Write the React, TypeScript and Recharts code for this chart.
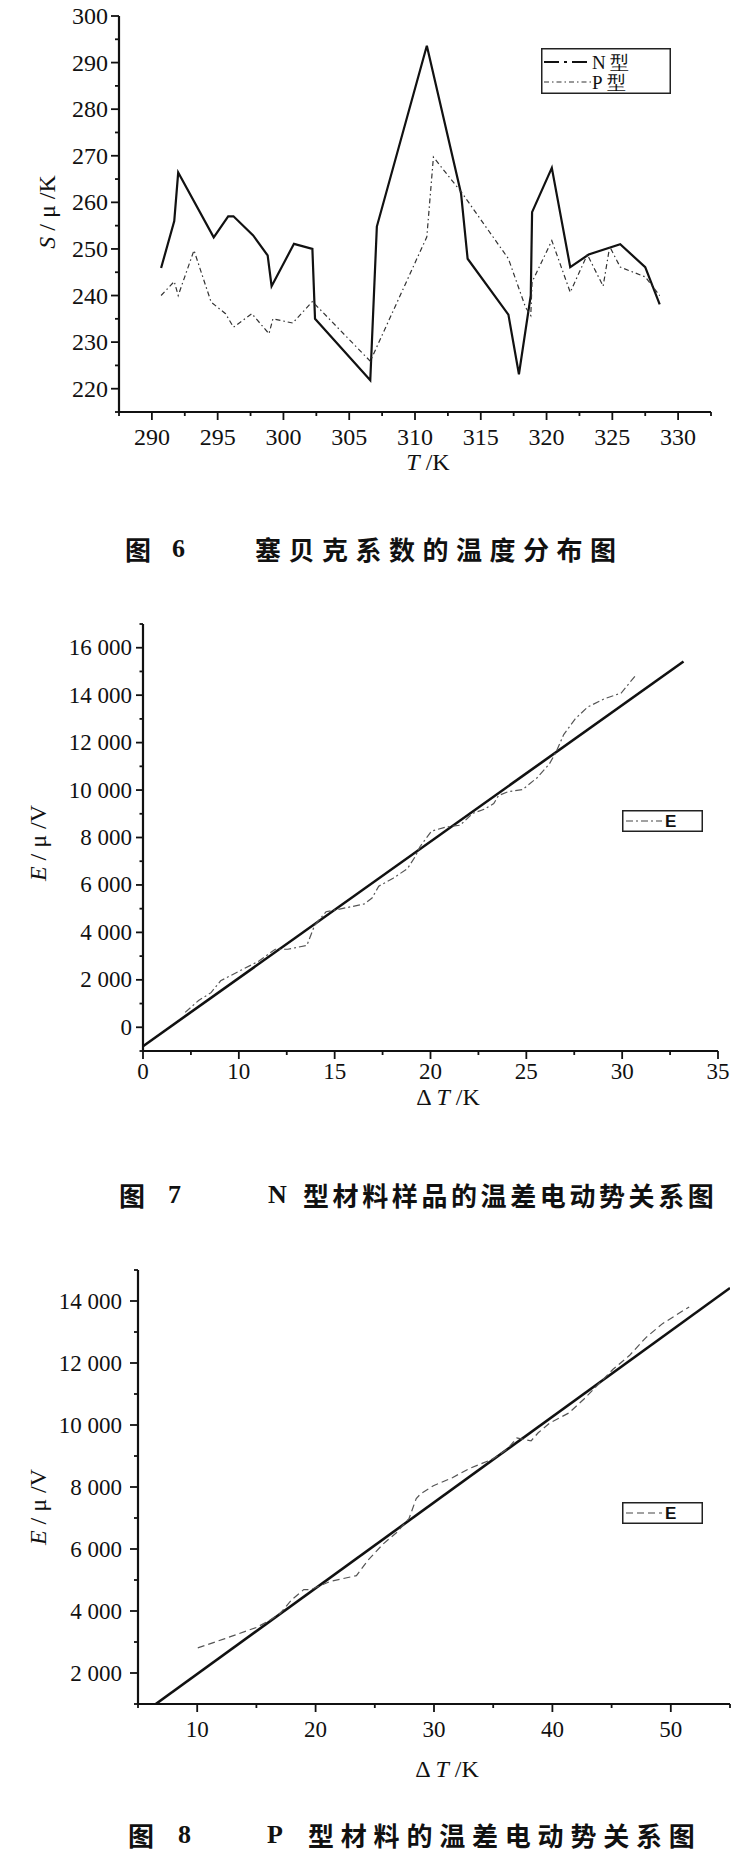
import React from 'react';
import { LineChart, Line, XAxis, YAxis, Legend } from 'recharts';

const INK = '#111';
const SERIF = '"Liberation Serif", "Times New Roman", serif';
const CJK = '"Noto Sans CJK SC", "Liberation Serif", sans-serif';

// ---- 图 6: Seebeck coefficient vs temperature ----
const nTypeT = [290.7, 291.7, 292.0, 294.7, 295.8, 296.2, 297.7, 298.8, 299.1, 300.8, 302.2, 302.4, 306.6, 307.1, 310.9, 313.5, 314.0, 317.1, 317.9, 318.8, 318.9, 320.4, 321.8, 323.2, 325.6, 327.5, 328.6];
const nTypeS = [245.9, 256.0, 266.4, 252.5, 257.0, 257.0, 252.9, 248.6, 242.0, 251.1, 250.0, 235.0, 221.8, 254.8, 293.6, 261.9, 247.9, 235.9, 223.1, 240.0, 257.9, 267.4, 246.1, 248.8, 251.0, 246.1, 238.1];
const pTypeT = [290.7, 291.7, 292.0, 293.2, 294.5, 295.6, 296.2, 297.6, 298.9, 299.2, 300.7, 302.2, 306.6, 310.9, 311.4, 313.6, 317.1, 318.4, 318.8, 318.9, 320.4, 321.8, 323.1, 324.3, 324.8, 325.6, 327.5, 328.6];
const pTypeS = [240.0, 243.0, 240.0, 249.7, 238.6, 236.1, 233.2, 236.1, 231.8, 235.0, 234.1, 238.7, 225.9, 252.6, 269.7, 261.9, 247.9, 237.5, 235.7, 242.9, 251.8, 240.7, 248.8, 242.0, 250.5, 246.1, 244.0, 240.0];
const fig6XTicks = [287.5, 290, 292.5, 295, 297.5, 300, 302.5, 305, 307.5, 310, 312.5, 315, 317.5, 320, 322.5, 325, 327.5, 330, 332.5];
const fig6XMajor = [290, 295, 300, 305, 310, 315, 320, 325, 330];
const fig6XLabels = ['290', '295', '300', '305', '310', '315', '320', '325', '330'];
const fig6YTicks = [215, 220, 225, 230, 235, 240, 245, 250, 255, 260, 265, 270, 275, 280, 285, 290, 295, 300];
const fig6YMajor = [220, 230, 240, 250, 260, 270, 280, 290, 300];
const fig6YLabels = ['220', '230', '240', '250', '260', '270', '280', '290', '300'];

// ---- 图 7: N-type EMF vs ΔT ----
const nDeltaT = [7.2, 7.9, 8.55, 9.05, 10.05, 11.05, 11.9, 12.55, 13.55, 13.95, 14.55, 15.55, 16.55, 16.95, 17.3, 18.05, 18.8, 19.2, 19.45, 20.05, 20.8, 21.55, 22.2, 22.8, 23.3, 23.55, 24.05, 24.8, 25.55, 26.2, 26.55, 26.95, 27.55, 28.2, 29.05, 29.95, 30.7];
const nEmf = [630, 1130, 1460, 1960, 2380, 2790, 3290, 3290, 3450, 4290, 4870, 5030, 5200, 5450, 5950, 6280, 6690, 7190, 7610, 8270, 8440, 8520, 9020, 9190, 9430, 9770, 9930, 10020, 10510, 11100, 11600, 12340, 13000, 13500, 13840, 14090, 14830];
const nFitT = [5, 33.2];
const nFitE = [-800, 15420];
const fig7XTicks = [5, 7.5, 10, 12.5, 15, 17.5, 20, 22.5, 25, 27.5, 30, 32.5, 35];
const fig7XMajor = [5, 10, 15, 20, 25, 30, 35];
const fig7XLabels = ['0', '10', '15', '20', '25', '30', '35'];
const fig7YTicks = [-1000, 0, 1000, 2000, 3000, 4000, 5000, 6000, 7000, 8000, 9000, 10000, 11000, 12000, 13000, 14000, 15000, 16000, 17000];
const fig7YMajor = [0, 2000, 4000, 6000, 8000, 10000, 12000, 14000, 16000];
const fig7YLabels = ['0', '2 000', '4 000', '6 000', '8 000', '10 000', '12 000', '14 000', '16 000'];

// ---- 图 8: P-type EMF vs ΔT ----
const pDeltaT = [10.05, 12.35, 15.0, 16.0, 17.0, 18.0, 19.0, 19.6, 21.2, 23.45, 24.45, 25.7, 26.9, 27.9, 28.5, 28.9, 29.95, 31.55, 32.95, 35.0, 36.2, 37.0, 38.2, 38.8, 39.8, 41.4, 42.65, 43.65, 45.1, 46.5, 47.9, 49.3, 51.55];
const pEmf = [2810, 3110, 3470, 3670, 3920, 4370, 4690, 4690, 4950, 5140, 5650, 6160, 6550, 6990, 7630, 7790, 8040, 8300, 8590, 8910, 9230, 9580, 9490, 9750, 10070, 10390, 10830, 11220, 11790, 12240, 12820, 13270, 13810];
const pFitT = [6.5, 55];
const pFitE = [1000, 14420];
const fig8XTicks = [5, 10, 15, 20, 25, 30, 35, 40, 45, 50, 55];
const fig8XMajor = [10, 20, 30, 40, 50];
const fig8XLabels = ['10', '20', '30', '40', '50'];
const fig8YTicks = [1000, 2000, 3000, 4000, 5000, 6000, 7000, 8000, 9000, 10000, 11000, 12000, 13000, 14000, 15000];
const fig8YMajor = [2000, 4000, 6000, 8000, 10000, 12000, 14000];
const fig8YLabels = ['2 000', '4 000', '6 000', '8 000', '10 000', '12 000', '14 000'];

const pairs = (xs: number[], ys: number[]) => xs.map((x, i) => ({ x, y: ys[i] }));

type TickCfg = { major: number[]; labels: string[]; len: number; minorLen: number; gap: number; fontSize: number };

const bottomTick = (c: TickCfg) => (props: any) => {
  const { x, y, payload } = props;
  const idx = c.major.indexOf(payload.value);
  return (
    <g>
      <line x1={x} x2={x} y1={y} y2={y + (idx >= 0 ? c.len : c.minorLen)} stroke={INK} strokeWidth={1.8} />
      {idx >= 0 && (
        <text x={x} y={y + c.gap} textAnchor="middle" dominantBaseline="central" fontFamily={SERIF} fontSize={c.fontSize} fill={INK}>
          {c.labels[idx]}
        </text>
      )}
    </g>
  );
};

const leftTick = (c: TickCfg) => (props: any) => {
  const { x, y, payload } = props;
  const idx = c.major.indexOf(payload.value);
  return (
    <g>
      <line x1={x - (idx >= 0 ? c.len : c.minorLen)} x2={x} y1={y} y2={y} stroke={INK} strokeWidth={1.8} />
      {idx >= 0 && (
        <text x={x - c.gap} y={y} textAnchor="end" dominantBaseline="central" fontFamily={SERIF} fontSize={c.fontSize} fill={INK}>
          {c.labels[idx]}
        </text>
      )}
    </g>
  );
};

const axisLine = { stroke: INK, strokeWidth: 2.2 };

function Fig6Legend() {
  return (
    <svg width={130} height={46} style={{ display: 'block' }}>
      <rect x={0.75} y={0.75} width={128.5} height={44.5} fill="#fff" stroke="#222" strokeWidth={1.5} />
      <line x1={3} x2={50} y1={14} y2={14} stroke={INK} strokeWidth={1.8} strokeDasharray="15 5 3 5" />
      <text x={51} y={14} dominantBaseline="central" fontFamily={SERIF} fontSize={19} fill={INK}>N 型</text>
      <line x1={3} x2={50} y1={34} y2={34} stroke="#333" strokeWidth={1.2} strokeDasharray="5 3 1.5 3" />
      <text x={51} y={34} dominantBaseline="central" fontFamily={SERIF} fontSize={19} fill={INK}>P 型</text>
    </svg>
  );
}

function ELegend({ dash }: { dash: string }) {
  return (
    <svg width={81} height={22} style={{ display: 'block' }}>
      <rect x={0.75} y={0.75} width={79.5} height={20.5} fill="#fff" stroke="#222" strokeWidth={1.5} />
      <line x1={4} x2={40} y1={11} y2={11} stroke="#444" strokeWidth={1.2} strokeDasharray={dash} />
      <text x={43} y={11.5} dominantBaseline="central" fontFamily='"Liberation Sans", Arial, sans-serif' fontSize={17} fontWeight={600} fill={INK}>E</text>
    </svg>
  );
}

function Abs({ cx, cy, rotate, size = 24, family = SERIF, weight = 400, spacing = 0, children }: any) {
  return (
    <div
      style={{
        position: 'absolute', left: cx, top: cy, whiteSpace: 'pre', lineHeight: 1,
        transform: `translate(-50%, -50%)${rotate ? ' rotate(-90deg)' : ''}`,
        fontFamily: family, fontSize: size, fontWeight: weight, letterSpacing: spacing, color: INK,
      }}
    >
      {children}
    </div>
  );
}

// caption pieces placed from their left edge
function Piece({ left, cy, size = 26, family = CJK, spacing = 0, children }: any) {
  return (
    <div
      style={{
        position: 'absolute', left, top: cy, transform: 'translateY(-50%)', whiteSpace: 'pre', lineHeight: 1,
        fontFamily: family, fontSize: size, fontWeight: 700, letterSpacing: spacing, color: INK,
      }}
    >
      {children}
    </div>
  );
}

export default function App() {
  return (
    <div style={{ position: 'absolute', left: 0, top: 0, width: 751, height: 1863, background: '#fff', overflow: 'hidden' }}>
      {/* 图 6 */}
      <div style={{ position: 'absolute', left: 0, top: 0 }}>
        <LineChart width={751} height={480} margin={{ top: 16, right: 40, bottom: 0, left: 0 }}>
          <XAxis dataKey="x" type="number" domain={[287.5, 332.5]} ticks={fig6XTicks} interval={0} height={68}
            axisLine={axisLine} tickLine={false} tickSize={0} tickMargin={0} allowDataOverflow
            tick={bottomTick({ major: fig6XMajor, labels: fig6XLabels, len: 8, minorLen: 4, gap: 25, fontSize: 24 })} />
          <YAxis type="number" domain={[215, 300]} ticks={fig6YTicks} interval={0} width={119}
            axisLine={axisLine} tickLine={false} tickSize={0} tickMargin={0} allowDataOverflow
            tick={leftTick({ major: fig6YMajor, labels: fig6YLabels, len: 8, minorLen: 4, gap: 11, fontSize: 24 })} />
          <Legend layout="vertical" align="center" verticalAlign="middle" content={() => <Fig6Legend />}
            wrapperStyle={{ left: 541, top: 48, width: 130, height: 46 }} />
          <Line data={pairs(nTypeT, nTypeS)} dataKey="y" name="N 型" type="linear" stroke={INK} strokeWidth={2.2}
            dot={false} isAnimationActive={false} />
          <Line data={pairs(pTypeT, pTypeS)} dataKey="y" name="P 型" type="linear" stroke="#333" strokeWidth={1.2}
            strokeDasharray="5 3 1.5 3" dot={false} isAnimationActive={false} />
        </LineChart>
      </div>
      <Abs cx={47} cy={212} rotate><i>S</i> / μ /K</Abs>
      <Abs cx={428} cy={462}><i>T</i> /K</Abs>
      <Piece left={125} cy={549}>图</Piece>
      <Piece left={172} cy={549} family={SERIF}>6</Piece>
      <Piece left={255} cy={549} spacing={7.5}>塞贝克系数的温度分布图</Piece>

      {/* 图 7 */}
      <div style={{ position: 'absolute', left: 0, top: 600 }}>
        <LineChart width={751} height={500} margin={{ top: 24, right: 33, bottom: 0, left: 0 }}>
          <XAxis dataKey="x" type="number" domain={[5, 35]} ticks={fig7XTicks} interval={0} height={49}
            axisLine={axisLine} tickLine={false} tickSize={0} tickMargin={0} allowDataOverflow
            tick={bottomTick({ major: fig7XMajor, labels: fig7XLabels, len: 8, minorLen: 4, gap: 20, fontSize: 23 })} />
          <YAxis type="number" domain={[-1000, 17000]} ticks={fig7YTicks} interval={0} width={143}
            axisLine={axisLine} tickLine={false} tickSize={0} tickMargin={0} allowDataOverflow
            tick={leftTick({ major: fig7YMajor, labels: fig7YLabels, len: 7, minorLen: 3.5, gap: 11, fontSize: 23 })} />
          <Legend layout="vertical" align="center" verticalAlign="middle" content={() => <ELegend dash="7 3 2 3" />}
            wrapperStyle={{ left: 622, top: 210, width: 81, height: 22 }} />
          <Line data={pairs(nFitT, nFitE)} dataKey="y" name="fit" type="linear" stroke={INK} strokeWidth={2.6}
            dot={false} isAnimationActive={false} />
          <Line data={pairs(nDeltaT, nEmf)} dataKey="y" name="E" type="linear" stroke="#555" strokeWidth={1.2}
            strokeDasharray="7 3 2 3" dot={false} isAnimationActive={false} />
        </LineChart>
      </div>
      <Abs cx={38} cy={843} rotate><i>E</i> / μ /V</Abs>
      <Abs cx={448} cy={1097}>Δ <i>T</i> /K</Abs>
      <Piece left={119} cy={1195}>图</Piece>
      <Piece left={168} cy={1195} family={SERIF}>7</Piece>
      <Piece left={268} cy={1195} family={SERIF}>N</Piece>
      <Piece left={303} cy={1195} spacing={3.6}>型材料样品的温差电动势关系图</Piece>

      {/* 图 8 */}
      <div style={{ position: 'absolute', left: 0, top: 1240 }}>
        <LineChart width={751} height={540} margin={{ top: 30, right: 21, bottom: 0, left: 0 }}>
          <XAxis dataKey="x" type="number" domain={[5, 55]} ticks={fig8XTicks} interval={0} height={76}
            axisLine={axisLine} tickLine={false} tickSize={0} tickMargin={0} allowDataOverflow
            tick={bottomTick({ major: fig8XMajor, labels: fig8XLabels, len: 8, minorLen: 4, gap: 25, fontSize: 23 })} />
          <YAxis type="number" domain={[1000, 15000]} ticks={fig8YTicks} interval={0} width={138}
            axisLine={axisLine} tickLine={false} tickSize={0} tickMargin={0} allowDataOverflow
            tick={leftTick({ major: fig8YMajor, labels: fig8YLabels, len: 8, minorLen: 4, gap: 16, fontSize: 23 })} />
          <Legend layout="vertical" align="center" verticalAlign="middle" content={() => <ELegend dash="7 4" />}
            wrapperStyle={{ left: 622, top: 262, width: 81, height: 22 }} />
          <Line data={pairs(pFitT, pFitE)} dataKey="y" name="fit" type="linear" stroke={INK} strokeWidth={2.6}
            dot={false} isAnimationActive={false} />
          <Line data={pairs(pDeltaT, pEmf)} dataKey="y" name="E" type="linear" stroke="#555" strokeWidth={1.2}
            strokeDasharray="7 4" dot={false} isAnimationActive={false} />
        </LineChart>
      </div>
      <Abs cx={38} cy={1507} rotate><i>E</i> / μ /V</Abs>
      <Abs cx={447} cy={1769}>Δ <i>T</i> /K</Abs>
      <Piece left={128} cy={1835}>图</Piece>
      <Piece left={178} cy={1835} family={SERIF}>8</Piece>
      <Piece left={267} cy={1835} family={SERIF}>P</Piece>
      <Piece left={308} cy={1835} spacing={6.8}>型材料的温差电动势关系图</Piece>
    </div>
  );
}
